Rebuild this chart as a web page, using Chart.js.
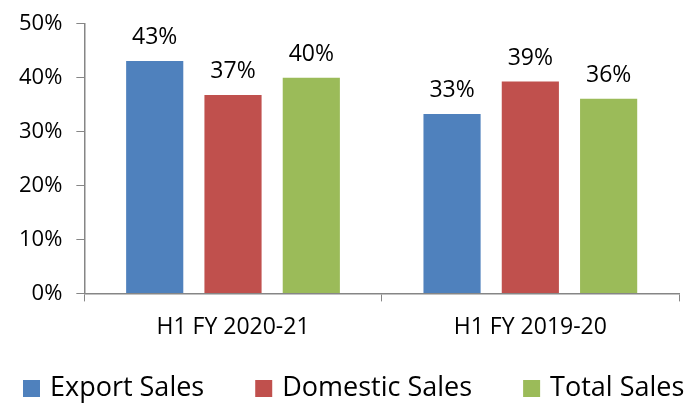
<!DOCTYPE html>
<html>
<head>
<meta charset="utf-8">
<script src="https://cdn.jsdelivr.net/npm/chart.js@4.4.1/dist/chart.umd.min.js"></script>
<style>
  html, body { margin: 0; padding: 0; background: #fff; }
  #wrap { width: 690px; height: 404px; }
</style>
</head>
<body>
<div id="wrap"><canvas id="salesChart" width="690" height="404"></canvas></div>
<script>
const periods = ['H1 FY 2020-21', 'H1 FY 2019-20'];
const exportSales = [43.1, 33.3];
const domesticSales = [36.8, 39.3];
const totalSales = [40.0, 36.1];
const seriesNames = ['Export Sales', 'Domestic Sales', 'Total Sales'];
const seriesColors = ['#4F81BD', '#C0504D', '#9BBB59'];

const fontFamily = "'Open Sans', 'Noto Sans', sans-serif";

// draw the % value above each bar
const valueLabels = {
    id: 'valueLabels',
    afterDatasetsDraw(chart) {
        const ctx = chart.ctx;
        ctx.save();
        ctx.font = '23px ' + fontFamily;
        ctx.fillStyle = '#000';
        ctx.textAlign = 'center';
        ctx.textBaseline = 'alphabetic';
        chart.data.datasets.forEach((ds, i) => {
            chart.getDatasetMeta(i).data.forEach((bar, j) => {
                ctx.fillText(Math.round(ds.data[j]) + '%', bar.x, bar.y - 17);
            });
        });
        ctx.restore();
    }
};

// wide legend along the bottom, the built-in one wraps at this size
const bottomLegend = {
    id: 'bottomLegend',
    afterDraw(chart) {
        const ctx = chart.ctx;
        ctx.save();
        ctx.font = '27px ' + fontFamily;
        ctx.textBaseline = 'middle';
        ctx.textAlign = 'left';
        let x = 23;
        const y = 388;
        chart.data.datasets.forEach((ds, i) => {
            ctx.fillStyle = ds.backgroundColor;
            ctx.fillRect(x, y - 8, 17, 17);
            ctx.fillStyle = '#000';
            ctx.fillText(ds.label, x + 27, y);
            x += 27 + ctx.measureText(ds.label).width + 51;
        });
        ctx.restore();
    }
};

new Chart(document.getElementById('salesChart'), {
    type: 'bar',
    data: {
        labels: periods,
        datasets: [exportSales, domesticSales, totalSales].map((vals, i) => ({
            label: seriesNames[i],
            data: vals,
            backgroundColor: seriesColors[i],
            categoryPercentage: 0.79,
            barPercentage: 0.73
        }))
    },
    options: {
        responsive: false,
        animation: false,
        layout: { padding: { top: 6, right: 11, left: 5, bottom: 51 } },
        scales: {
            x: {
                grid: {
                    display: true,
                    drawOnChartArea: false,
                    offset: true,
                    tickLength: 8,
                    color: '#868686'
                },
                border: { color: '#868686', width: 1.5 },
                ticks: { color: '#000', font: { family: fontFamily, size: 23 }, padding: 12 }
            },
            y: {
                min: 0,
                max: 50,
                grid: {
                    display: true,
                    drawOnChartArea: false,
                    tickLength: 8,
                    color: '#868686'
                },
                border: { color: '#868686', width: 1.5 },
                ticks: {
                    stepSize: 10,
                    color: '#000',
                    font: { family: fontFamily, size: 22, lineHeight: 0.9 },
                    padding: 14,
                    callback: v => v + '%'
                }
            }
        },
        plugins: {
            tooltip: { enabled: false },
            legend: { display: false }
        }
    },
    plugins: [valueLabels, bottomLegend]
});
</script>
</body>
</html>
